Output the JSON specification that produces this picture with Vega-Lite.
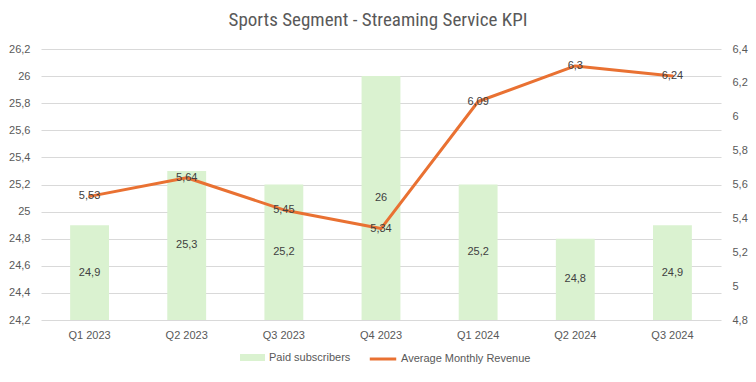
{
  "$schema": "https://vega.github.io/schema/vega-lite/v6.json",
  "width": 680,
  "height": 271,
  "autosize": {"type": "none"},
  "padding": {"left": 41, "top": 49, "right": 35, "bottom": 62},
  "background": "white",
  "title": {
    "text": "Sports Segment - Streaming Service KPI",
    "fontSize": 19,
    "font": "Liberation Sans Narrow, Roboto Condensed, Liberation Sans, sans-serif",
    "fontWeight": "normal",
    "color": "#595959",
    "anchor": "middle",
    "offset": 13,
    "dx": -3
  },
  "config": {
    "locale": {"number": {"decimal": ",", "thousands": ".", "grouping": [3], "currency": ["", ""]}},
    "view": {"stroke": null},
    "font": "Liberation Sans",
    "axis": {
      "labelFont": "Liberation Sans",
      "labelFontSize": 11,
      "labelColor": "#595959",
      "ticks": false,
      "domain": false,
      "title": null,
      "labelOverlap": false
    },
    "legend": {
      "labelFont": "Liberation Sans",
      "labelFontSize": 11,
      "labelColor": "#595959"
    }
  },
  "data": {
    "values": [
      {"quarter": "Q1 2023", "subs": 24.9, "arpu": 5.53},
      {"quarter": "Q2 2023", "subs": 25.3, "arpu": 5.64},
      {"quarter": "Q3 2023", "subs": 25.2, "arpu": 5.45},
      {"quarter": "Q4 2023", "subs": 26.0, "arpu": 5.34},
      {"quarter": "Q1 2024", "subs": 25.2, "arpu": 6.09},
      {"quarter": "Q2 2024", "subs": 24.8, "arpu": 6.3},
      {"quarter": "Q3 2024", "subs": 24.9, "arpu": 6.24}
    ]
  },
  "encoding": {
    "x": {
      "field": "quarter",
      "type": "nominal",
      "sort": null,
      "scale": {"paddingInner": 0.6, "paddingOuter": 0.3},
      "axis": {"labelAngle": 0, "labelPadding": 9, "grid": false}
    }
  },
  "layer": [
    {
      "layer": [
        {
          "mark": {"type": "bar"},
          "encoding": {
            "y": {
              "field": "subs",
              "type": "quantitative",
              "scale": {"domain": [24.2, 26.2], "zero": false, "nice": false},
              "axis": {
                "orient": "left",
                "values": [24.2, 24.4, 24.6, 24.8, 25, 25.2, 25.4, 25.6, 25.8, 26, 26.2],
                "tickCount": 20,
                "format": ".1~f",
                "grid": true,
                "gridColor": "#D9D9D9",
                "gridWidth": 1,
                "labelPadding": 11
              }
            },
            "y2": {"datum": 24.2},
            "fill": {
              "datum": "Paid subscribers",
              "type": "nominal",
              "scale": {"range": ["#DAF2D0"]},
              "legend": {
                "title": null,
                "orient": "none",
                "legendX": 199,
                "legendY": 296,
                "symbolType": "M-1,-0.28H1V0.28H-1Z",
                "symbolSize": 625,
                "symbolStrokeWidth": 0,
                "labelOffset": 4
              }
            }
          }
        },
        {
          "transform": [{"calculate": "(datum.subs + 24.2) / 2", "as": "mid"}],
          "mark": {"type": "text", "fontSize": 11, "color": "#404040", "font": "Liberation Sans", "baseline": "middle"},
          "encoding": {
            "y": {"field": "mid", "type": "quantitative"},
            "text": {"field": "subs", "type": "quantitative", "format": "~g"}
          }
        }
      ]
    },
    {
      "layer": [
        {
          "mark": {"type": "line", "strokeWidth": 3, "strokeCap": "round", "strokeJoin": "round"},
          "encoding": {
            "y": {
              "field": "arpu",
              "type": "quantitative",
              "scale": {"domain": [4.8, 6.4], "zero": false, "nice": false},
              "axis": {
                "orient": "right",
                "values": [4.8, 5, 5.2, 5.4, 5.6, 5.8, 6, 6.2, 6.4],
                "tickCount": 20,
                "format": ".1~f",
                "grid": false,
                "labelPadding": 11
              }
            },
            "stroke": {
              "datum": "Average Monthly Revenue",
              "type": "nominal",
              "scale": {"range": ["#E97132"]},
              "legend": {
                "title": null,
                "orient": "none",
                "legendX": 327,
                "legendY": 295,
                "symbolType": "stroke",
                "symbolSize": 700,
                "symbolStrokeWidth": 3,
                "labelOffset": 3
              }
            }
          }
        },
        {
          "mark": {"type": "text", "fontSize": 11, "color": "#404040", "font": "Liberation Sans", "baseline": "middle"},
          "encoding": {
            "y": {"field": "arpu", "type": "quantitative"},
            "text": {"field": "arpu", "type": "quantitative", "format": "~g"}
          }
        }
      ]
    }
  ],
  "resolve": {"scale": {"y": "independent"}}
}
